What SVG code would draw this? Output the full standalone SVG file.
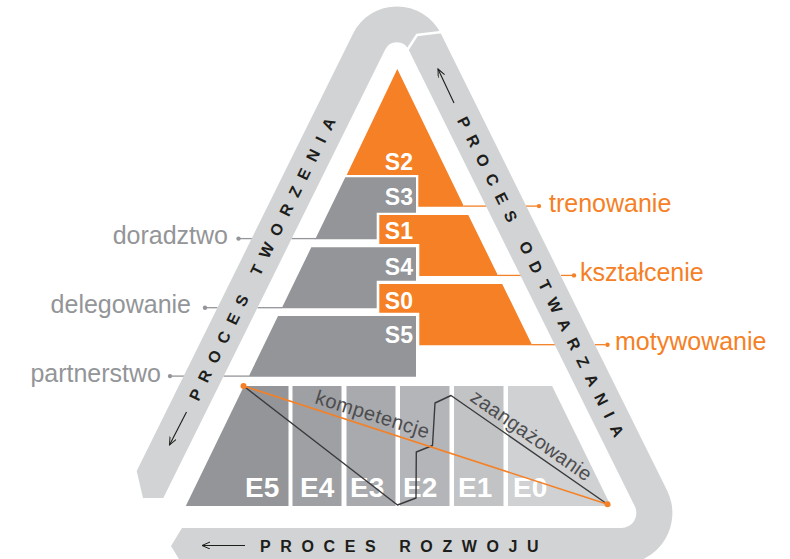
<svg xmlns="http://www.w3.org/2000/svg" width="790" height="559" viewBox="0 0 790 559">
<defs>
<style>
.band{fill:#d1d3d4}
.gr{fill:#939598}
.or{fill:#f58025}
.lbl{font-family:"Liberation Sans",Arial,sans-serif;font-size:25px}
.gl{fill:#939598}
.ol{fill:#f58025}
.s{font-family:"Liberation Sans",Arial,sans-serif;font-weight:bold;font-size:23px;fill:#fff;text-anchor:end}
.e{font-family:"Liberation Sans",Arial,sans-serif;font-weight:bold;font-size:28px;fill:#fff}
.proc{font-family:"Liberation Sans",Arial,sans-serif;font-weight:bold;font-size:16px;letter-spacing:9.6px;fill:#1d1d1b}
.ax{font-family:"Liberation Sans",Arial,sans-serif;font-size:20px;fill:#4d4d4f}
.lg{stroke:#939598;stroke-width:1.3;fill:none}
.lo{stroke:#f58025;stroke-width:1.3;fill:none}
.arr{stroke:#1d1d1b;stroke-width:1.1;fill:none;marker-end:url(#ah)}
</style>
<marker id="ah" markerUnits="userSpaceOnUse" markerWidth="10" markerHeight="8" refX="8" refY="3.5" orient="auto">
<path d="M0,0 L8,3.5 L0,7" fill="none" stroke="#1d1d1b" stroke-width="1"/>
</marker>
</defs>

<g id="connectors">
<line class="lg" x1="240" y1="238.6" x2="252" y2="238.6"/>
<line class="lg" x1="291.5" y1="238.6" x2="316" y2="238.6"/>
<line class="lg" x1="207" y1="307.7" x2="217.5" y2="307.7"/>
<line class="lg" x1="257.5" y1="307.7" x2="282" y2="307.7"/>
<line class="lg" x1="172" y1="376.1" x2="184" y2="376.1"/>
<line class="lg" x1="223.5" y1="376.1" x2="249" y2="376.1"/>
<circle cx="238.5" cy="238.6" r="2.2" fill="#939598"/>
<circle cx="205" cy="307.7" r="2.2" fill="#939598"/>
<circle cx="170" cy="376.1" r="2.2" fill="#939598"/>
<line class="lo" x1="464" y1="206.1" x2="486.5" y2="206.1"/>
<line class="lo" x1="526" y1="206.1" x2="537" y2="206.1"/>
<line class="lo" x1="498" y1="275.4" x2="521" y2="275.4"/>
<line class="lo" x1="561" y1="275.4" x2="572" y2="275.4"/>
<line class="lo" x1="532" y1="344.7" x2="555" y2="344.7"/>
<line class="lo" x1="595" y1="344.7" x2="605.5" y2="344.7"/>
<circle cx="539" cy="206.1" r="2.2" fill="#f58025"/>
<circle cx="574" cy="275.4" r="2.2" fill="#f58025"/>
<circle cx="607.5" cy="344.7" r="2.2" fill="#f58025"/>
</g>

<g id="band">
<path class="band" d="M143,498 L136.7,471 L353,33.7 A49,49 0 0 1 440.8,33.6 L667.1,490.4 A51,51 0 0 1 621.4,564 L182,564 L171,546 L182,528 L621.4,528 A15,15 0 0 0 634.8,506.3 L408.5,49.6 A13,13 0 0 0 385.2,49.6 L163.3,498 Z"/>
<polyline points="404,55 417,35 450,31" fill="none" stroke="#fff" stroke-width="2.5"/>
<line class="arr" x1="186.5" y1="412" x2="169.5" y2="445"/>
<line class="arr" x1="454" y1="103" x2="438" y2="69"/>
<line class="arr" x1="245" y1="545.5" x2="202" y2="545.5"/>
<text class="proc" transform="translate(262,259) rotate(-63.9)" x="-156.4" y="5.8">PROCES TWORZENIA</text>
<text class="proc" transform="translate(541,277) rotate(63.6)" x="-178" y="5.8">PROCES ODTWARZANIA</text>
<text class="proc" x="260" y="551.8">PROCES ROZWOJU</text>
</g>

<g id="S2"><path class="or" d="M397.3,69 L346.7,175 L418.3,175 L418.3,206.7 L464.1,206.7 Z"/><text class="s" x="413" y="170">S2</text></g>
<g id="S3"><path class="gr" d="M345.3,177.3 L416,177.3 L416,212.7 L376.7,212.7 L376.7,239.3 L315.2,239.3 Z"/><text class="s" x="413" y="205">S3</text></g>
<g id="S1"><path class="or" d="M379.3,215 L468.3,215 L498.2,276 L419.3,276 L419.3,244 L379.3,244 Z"/><text class="s" x="413" y="238.5">S1</text></g>
<g id="S4"><path class="gr" d="M311.3,247.3 L416,247.3 L416,280.7 L376.7,280.7 L376.7,308.3 L281.7,308.3 Z"/><text class="s" x="413" y="275">S4</text></g>
<g id="S0"><path class="or" d="M379.3,284 L502.2,284 L532.2,345.3 L419.3,345.3 L419.3,312.7 L379.3,312.7 Z"/><text class="s" x="413" y="308.5">S0</text></g>
<g id="S5"><path class="gr" d="M278,316 L416,316 L416,376.7 L248.6,376.7 Z"/><text class="s" x="413" y="342.7">S5</text></g>

<g id="E5"><path fill="#939598" d="M244,386 L288.5,386 L288.5,506 L185.8,506 Z"/><text class="e" x="245" y="497">E5</text></g>
<g id="E4"><rect fill="#9fa0a3" x="292.5" y="386" width="49" height="120"/><text class="e" x="300" y="497">E4</text></g>
<g id="E3"><rect fill="#a9aaad" x="346.5" y="386" width="49" height="120"/><text class="e" x="350" y="497">E3</text></g>
<g id="E2"><rect fill="#b4b5b8" x="400" y="386" width="49.5" height="120"/><text class="e" x="403" y="497">E2</text></g>
<g id="E1"><rect fill="#c2c3c5" x="454" y="386" width="49.5" height="120"/><text class="e" x="458" y="497">E1</text></g>
<g id="E0"><path fill="#d0d1d3" d="M508,386 L552.1,386 L610.9,506 L508,506 Z"/><text class="e" x="513" y="497">E0</text></g>

<g id="curves">
<polyline points="243.5,386 397.5,505 416,498 416.3,452 432.5,445.5 435,403 451,395.5 607.5,504.3" fill="none" stroke="#3a3a3c" stroke-width="1.4" stroke-linejoin="round"/>
<line x1="243.5" y1="386" x2="607.5" y2="504.3" stroke="#f58025" stroke-width="1.5"/>
<circle cx="243.5" cy="386" r="3" fill="#f58025"/>
<circle cx="607.5" cy="504.3" r="3" fill="#f58025"/>
<text class="ax" transform="translate(314,403) rotate(17.5)" letter-spacing="0.5">kompetencje</text>
<text class="ax" transform="translate(469,400) rotate(35)" letter-spacing="0.3">zaangażowanie</text>
</g>

<g id="labels">
<text class="lbl gl" x="228" y="244" text-anchor="end">doradztwo</text>
<text class="lbl gl" x="191" y="313" text-anchor="end">delegowanie</text>
<text class="lbl gl" x="161" y="381.5" text-anchor="end">partnerstwo</text>
<text class="lbl ol" x="549" y="211.5">trenowanie</text>
<text class="lbl ol" x="580" y="281">kształcenie</text>
<text class="lbl ol" x="615" y="350">motywowanie</text>
</g>
</svg>
